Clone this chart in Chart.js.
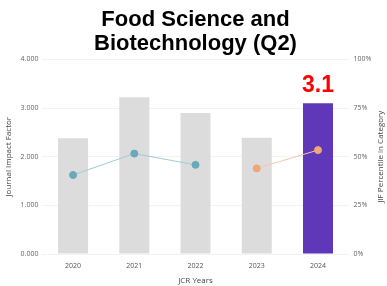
<!DOCTYPE html>
<html>
<head>
<meta charset="utf-8">
<script src="https://cdn.jsdelivr.net/npm/chart.js@4"></script>
<style>
    html, body { margin: 0; padding: 0; background: #fff; }
    #wrap { width: 387px; height: 286px; }
</style>
</head>
<body>
<div id="wrap"><canvas id="jcrChart" width="387" height="286"></canvas></div>
<script>
// values
const years = ['2020', '2021', '2022', '2023', '2024'];
const impactFactor = [2.38, 3.22, 2.9, 2.39, 3.1];
const percentileOld = [40.6, 51.6, 45.8, null, null];
const percentileNew = [null, null, null, 44.0, 53.4];
const barColors = ['#dcdcdc', '#dcdcdc', '#dcdcdc', '#dcdcdc', '#5f37b9'];
const rightAxisTitle = 'JIF Percentile in Category';

const tickFont = { family: 'Open Sans', size: 7 };
const axisTitleFont = { family: 'Open Sans', size: 8 };

// big red value above the latest bar, and the right axis title read bottom-up
const extraText = {
    id: 'extraText',
    afterDraw(chart) {
        const ctx = chart.ctx;
        const bar = chart.getDatasetMeta(2).data[impactFactor.length - 1];
        ctx.save();
        ctx.fillStyle = '#ff0000';
        ctx.font = 'bold 23px "Liberation Sans", Arial, sans-serif';
        ctx.textAlign = 'center';
        ctx.textBaseline = 'alphabetic';
        ctx.fillText(impactFactor[impactFactor.length - 1].toFixed(1), bar.x, bar.y - 11);
        ctx.restore();

        const s = chart.scales.y1;
        ctx.save();
        ctx.translate(s.right - 1 - 4.8, (s.top + s.bottom) / 2);
        ctx.rotate(-Math.PI / 2);
        ctx.fillStyle = '#444';
        ctx.font = '8px "Open Sans"';
        ctx.textAlign = 'center';
        ctx.textBaseline = 'middle';
        ctx.fillText(rightAxisTitle, 0, 0);
        ctx.restore();
    }
};

new Chart(document.getElementById('jcrChart').getContext('2d'), {
    data: {
        labels: years,
        datasets: [
            {
                type: 'line',
                data: percentileOld,
                yAxisID: 'y1',
                borderColor: '#a3cad6',
                borderWidth: 1,
                pointBackgroundColor: '#6aa9bc',
                pointBorderColor: '#6aa9bc',
                pointRadius: 3.5,
                spanGaps: false,
                order: 1
            },
            {
                type: 'line',
                data: percentileNew,
                yAxisID: 'y1',
                borderColor: '#f5c7a8',
                borderWidth: 1,
                pointBackgroundColor: '#efa679',
                pointBorderColor: '#efa679',
                pointRadius: 3.5,
                spanGaps: false,
                order: 1
            },
            {
                type: 'bar',
                data: impactFactor,
                yAxisID: 'y',
                backgroundColor: barColors,
                categoryPercentage: 1,
                barPercentage: 0.49,
                order: 2
            }
        ]
    },
    options: {
        responsive: false,
        animation: false,
        layout: { padding: { left: 4, right: 0, top: 8, bottom: 0 } },
        plugins: {
            legend: { display: false },
            tooltip: { enabled: false },
            title: {
                display: true,
                text: ['Food Science and', 'Biotechnology (Q2)'],
                color: '#000',
                font: { family: 'Liberation Sans', size: 22, weight: 'bold', lineHeight: 1.1 },
                padding: { top: 0, bottom: 3 }
            }
        },
        scales: {
            x: {
                grid: { display: false, drawTicks: true, tickLength: 8 },
                border: { display: false },
                ticks: { font: tickFont, color: '#555', padding: 0 },
                title: { display: true, text: 'JCR Years', font: axisTitleFont, color: '#444', padding: { top: 6, bottom: 0 } }
            },
            y: {
                position: 'left',
                min: 0,
                max: 4,
                ticks: { stepSize: 1, font: tickFont, color: '#666', padding: 4, callback: v => v.toFixed(3) },
                grid: { color: '#f2f2f2', drawTicks: false },
                border: { display: false },
                title: { display: true, text: 'Journal Impact Factor', font: axisTitleFont, color: '#444', padding: { top: 0, bottom: 3 } }
            },
            y1: {
                position: 'right',
                min: 0,
                max: 100,
                ticks: { stepSize: 25, font: tickFont, color: '#666', padding: 5, callback: v => v + '%' },
                grid: { display: false, drawTicks: false },
                border: { display: false },
                // keeps room for the title; the visible text is drawn by extraText
                title: { display: true, text: rightAxisTitle, font: axisTitleFont, color: 'rgba(0,0,0,0)', padding: { top: 0, bottom: 1 } }
            }
        }
    },
    plugins: [extraText]
});
</script>
</body>
</html>
